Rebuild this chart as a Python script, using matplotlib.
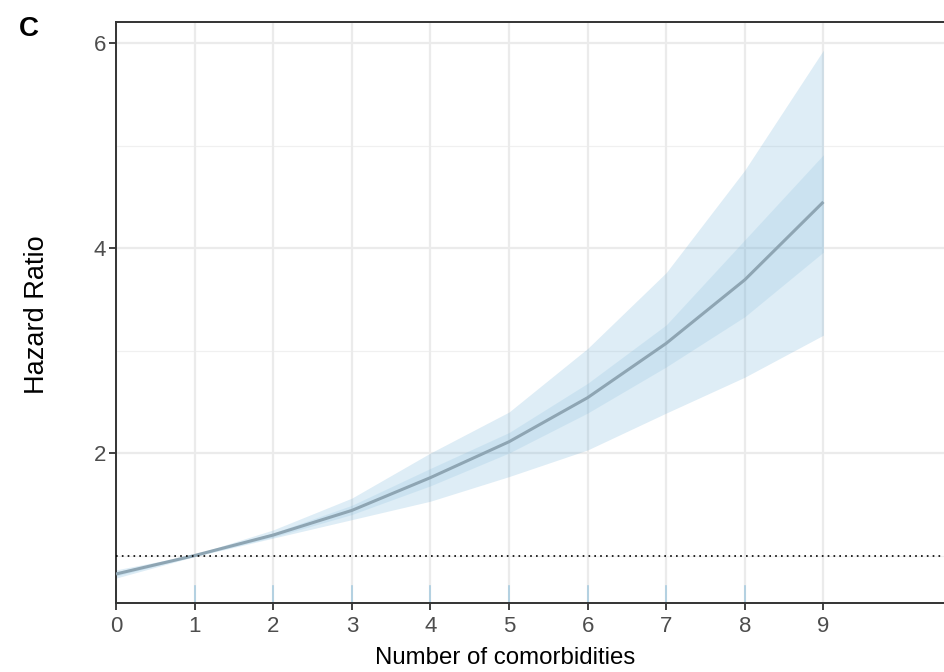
import matplotlib
matplotlib.use("Agg")
import matplotlib.pyplot as plt
import numpy as np

plt.rcParams['font.family'] = ['Liberation Sans', 'DejaVu Sans']

# Data
comorbidities = [0, 1, 2, 3, 4, 5, 6, 7, 8, 9]
hr = [0.82, 1.00, 1.20, 1.44, 1.76, 2.11, 2.54, 3.07, 3.69, 4.45]
outer_low = [0.78, 0.99, 1.17, 1.35, 1.53, 1.77, 2.03, 2.39, 2.74, 3.15]
outer_high = [0.86, 1.01, 1.25, 1.56, 2.00, 2.40, 3.02, 3.76, 4.76, 5.93]
inner_low = [0.80, 0.995, 1.18, 1.40, 1.68, 2.00, 2.39, 2.84, 3.33, 3.96]
inner_high = [0.84, 1.005, 1.22, 1.49, 1.85, 2.20, 2.68, 3.25, 4.08, 4.91]
rug_x = [0, 1, 2, 3, 4, 5, 6, 7, 8]
x_ticks = [0, 1, 2, 3, 4, 5, 6, 7, 8, 9]
y_ticks = [2, 4, 6]
y_minor = [1, 3, 5]
reference_hr = 1.0

W, H = 945, 672
fig = plt.figure(figsize=(W / 100, H / 100), dpi=100)
x_max = 11.0
px_per_unit = 78.6
ax = fig.add_axes([116 / W, (H - 603) / H, x_max * px_per_unit / W, (603 - 22) / H])

ax.set_xlim(0, x_max)
ax.set_ylim(0.537, 6.205)

# grid
for yv in y_minor:
    ax.axhline(yv, color='#f0f0f0', lw=0.9, zorder=0)
for yv in y_ticks:
    ax.axhline(yv, color='#ebebeb', lw=1.6, zorder=0)
for xv in x_ticks:
    ax.axvline(xv, color='#ebebeb', lw=1.6, zorder=0)

ax.fill_between(comorbidities, outer_low, outer_high, color='#6baed6', alpha=0.22, lw=0, zorder=1)
ax.fill_between(comorbidities, inner_low, inner_high, color='#6baed6', alpha=0.16, lw=0, zorder=2)
ax.plot(comorbidities, hr, color='#8ea5b3', lw=2.2, zorder=3, solid_capstyle='butt')

ax.axhline(reference_hr, color='black', lw=1.2, ls=(0, (1, 2.5)), zorder=4)

# rug
for xv in rug_x:
    ax.plot([xv, xv], [0.537, 0.537 + 0.165], color='#a9cce0', lw=1.2, zorder=2, clip_on=False)

ax.set_xticks(x_ticks)
ax.set_yticks(y_ticks)
ax.set_xticklabels([str(v) for v in x_ticks])
ax.set_yticklabels([str(v) for v in y_ticks])
ax.tick_params(axis='both', colors='#333333', length=5, width=1.3, labelsize=16,
               labelcolor='#4d4d4d')
ax.tick_params(axis='x', pad=4)
ax.tick_params(axis='y', pad=2)

for side in ['left', 'bottom', 'top']:
    ax.spines[side].set_color('#333333')
    ax.spines[side].set_linewidth(1.4)
ax.spines['right'].set_visible(False)

fig.text(505 / W, 1 - 658 / H, 'Number of comorbidities', ha='center', va='center',
         fontsize=17.3, color='black')
fig.text(37 / W, 1 - 315 / H, 'Hazard Ratio', ha='center', va='center', rotation=90,
         fontsize=19.5, color='black')
fig.text(29 / W, 1 - 29 / H, 'C', ha='center', va='center', fontsize=20,
         fontweight='bold', color='black')

fig.savefig('out.png', dpi=100)
